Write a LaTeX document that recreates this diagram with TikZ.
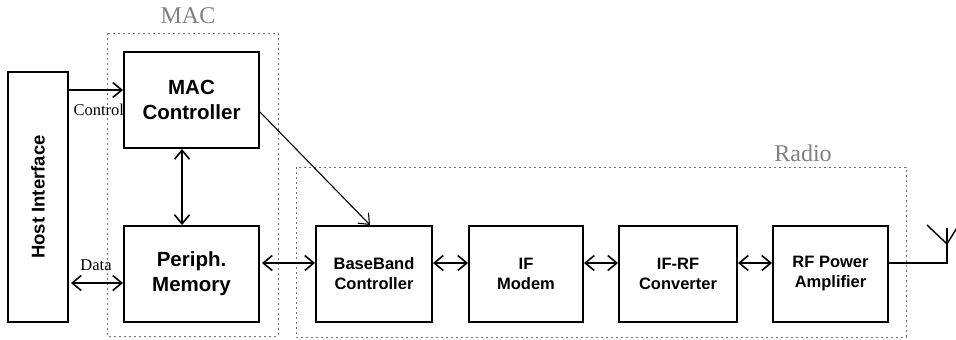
\documentclass[tikz,border=0pt]{standalone}
\usepackage{fontspec}
\setmainfont{Liberation Serif}
\setsansfont{Liberation Sans}
\usetikzlibrary{arrows.meta}
\begin{document}
\begin{tikzpicture}[x=1pt,y=-1pt,
  block/.style={draw,line width=2pt,align=center,font=\sffamily\bfseries,inner sep=0pt},
  bigblock/.style={block,minimum width=135pt,minimum height=96pt,font=\sffamily\bfseries\fontsize{20.5}{25}\selectfont},
  radblock/.style={block,minimum height=96pt,font=\sffamily\bfseries\fontsize{16.5}{20}\selectfont},
  group/.style={draw=black!55,line width=0.6pt,dash pattern=on 2pt off 3pt},
  grouplabel/.style={text=black!50,font=\fontsize{24}{26}\selectfont},
  sig/.style={line width=1.6pt,-{Straight Barb[length=9pt,width=15pt]}},
  bisig/.style={line width=1.6pt,{Straight Barb[length=9pt,width=15pt]}-{Straight Barb[length=9pt,width=15pt]}},
  lbl/.style={font=\fontsize{16.5}{18}\selectfont}]
\useasboundingbox (0,0) rectangle (956,340);
% groups
\draw[group] (107,33) rectangle (278,336);
\draw[group] (296,167) rectangle (906,337);
\node[grouplabel] (maclbl) at (188,16) {MAC};
\node[grouplabel] (radiolbl) at (803,153) {Radio};
% blocks
\node[block,rotate=90,minimum width=250pt,minimum height=60pt,font=\sffamily\bfseries\fontsize{18.5}{22}\selectfont] (host) at (38,197) {Host Interface};
\node[bigblock] (mac) at (191.5,100) {MAC\\Controller};
\node[bigblock] (pm) at (191.5,274) {Periph.\\Memory};
\node[radblock,minimum width=116pt] (bb) at (374,274) {BaseBand\\Controller};
\node[radblock,minimum width=114pt] (ifm) at (526,274) {IF\\Modem};
\node[radblock,minimum width=118pt] (ifrf) at (678,274) {IF-RF\\Converter};
\node[radblock,minimum width=115pt] (rf) at (830.5,274) {RF Power\\Amplifier};
% connectors
\path ([yshift=10pt]mac.west) coordinate (cin);
\draw[sig] (host.south |- cin) -- (cin);
\node[lbl,anchor=west] (ctl) at (70,110) {Control};
\path ([yshift=-9pt]pm.west) coordinate (din);
\draw[bisig] ([xshift=2pt]host.south |- din) -- (din);
\node[lbl] (data) at (96,265) {Data};
\draw[bisig] ([xshift=-9.5pt]mac.south) -- ([xshift=-9.5pt]pm.north);
\draw[bisig] ([yshift=11pt,xshift=2pt]pm.east) -- ([yshift=11pt]bb.west);
\draw[sig,line width=1.1pt] ([yshift=-12pt]mac.east) -- ([xshift=-4pt]bb.north);
\draw[bisig] ([yshift=11pt]bb.east) -- ([yshift=11pt]ifm.west);
\draw[bisig] ([yshift=11pt]ifm.east) -- ([yshift=11pt]ifrf.west);
\draw[bisig] ([yshift=11pt]ifrf.east) -- ([yshift=11pt]rf.west);
% antenna
\coordinate (ant) at (947,244);
\draw[line width=2pt] ([yshift=11pt]rf.east) -| (ant);
\draw[line width=1.4pt] (927,225) -- (ant) -- (958,226);
\draw[line width=1.4pt] (ant) -- (947,228);
\end{tikzpicture}
\end{document}
